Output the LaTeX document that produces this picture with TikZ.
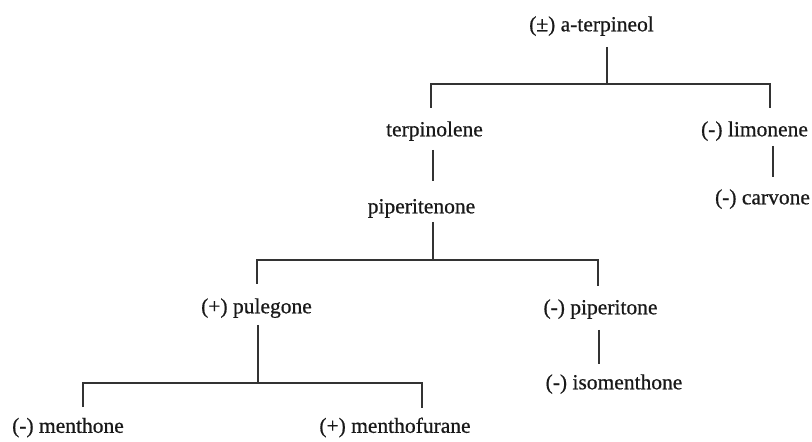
\documentclass[tikz,border=0pt]{standalone}
\usepackage{fontspec}
\setmainfont{Liberation Serif}
\newfontfamily\lblfont[FakeBold=0.7]{Liberation Serif}
\begin{document}
\begin{tikzpicture}[x=1bp,y=-1bp,
  lbl/.style={inner sep=0pt, text height=0.68em, text depth=0.22em, yshift=-4bp,
    font=\lblfont\fontsize{21.5bp}{25bp}\selectfont, text=black!90},
  conn/.style={draw=black!80, line width=1.3bp}]
\useasboundingbox (0,0) rectangle (812,442);
% nodes
\node[lbl] (T)  at (591.5,25)  {(±) a-terpineol};
\node[lbl] (Tl) at (434.5,130) {terpinolene};
\node[lbl] (L)  at (754.5,130) {(-) limonene};
\node[lbl] (C)  at (762.5,198) {(-) carvone};
\node[lbl] (P)  at (421.5,207) {piperitenone};
\node[lbl] (Pu) at (256.5,307) {(+) pulegone};
\node[lbl] (Pi) at (600.5,308) {(-) piperitone};
\node[lbl] (I)  at (614,383)   {(-) isomenthone};
\node[lbl] (M)  at (68,426.5)  {(-) menthone};
\node[lbl] (F)  at (395,426.5) {(+) menthofurane};
% connector end points
\coordinate (T-out)  at (607,47);
\coordinate (T-bar)  at (607,84);
\coordinate (Tl-in)  at (431,108);
\coordinate (L-in)   at (770,108);
\coordinate (Tl-out) at (433,150);
\coordinate (P-in)   at (433,181);
\coordinate (L-out)  at (773,146);
\coordinate (C-in)   at (773,177);
\coordinate (P-out)  at (433,222);
\coordinate (P-bar)  at (433,260);
\coordinate (Pu-in)  at (257,284);
\coordinate (Pi-in)  at (598,286);
\coordinate (Pu-out) at (258,325);
\coordinate (Pu-bar) at (258,383);
\coordinate (M-in)   at (83,407);
\coordinate (F-in)   at (422,408);
\coordinate (Pi-out) at (599,330);
\coordinate (I-in)   at (599,364);
% connectors
\draw[conn] (T-out) -- (T-bar);
\draw[conn] (Tl-in) -- (Tl-in |- T-bar) -- (L-in |- T-bar) -- (L-in);
\draw[conn] (Tl-out) -- (P-in);
\draw[conn] (L-out) -- (C-in);
\draw[conn] (P-out) -- (P-bar);
\draw[conn] (Pu-in) -- (Pu-in |- P-bar) -- (Pi-in |- P-bar) -- (Pi-in);
\draw[conn] (Pu-out) -- (Pu-bar);
\draw[conn] (M-in) -- (M-in |- Pu-bar) -- (F-in |- Pu-bar) -- (F-in);
\draw[conn] (Pi-out) -- (I-in);
\end{tikzpicture}
\end{document}
